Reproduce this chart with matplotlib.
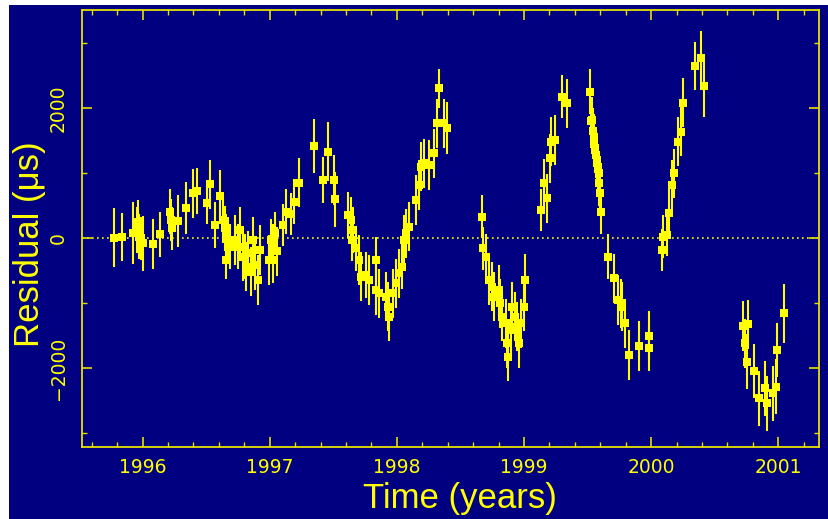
import matplotlib
matplotlib.use("Agg")
import matplotlib.pyplot as plt
from matplotlib.patches import Rectangle
from matplotlib.ticker import MultipleLocator

# --- data ---
time_years = [
    1995.776, 1995.835, 1995.926, 1995.960, 1995.966, 1995.975, 1995.990, 1996.000, 1996.083, 1996.136,
    1996.214, 1996.222, 1996.228, 1996.279, 1996.340, 1996.397, 1996.431, 1996.507, 1996.528, 1996.567,
    1996.606, 1996.632, 1996.645, 1996.653, 1996.659, 1996.672,
    1996.685, 1996.724, 1996.750, 1996.763, 1996.789, 1996.802, 1996.815, 1996.828, 1996.855, 1996.868,
    1996.881, 1996.907, 1996.920, 1996.998, 1997.012, 1997.025, 1997.030, 1997.040, 1997.060, 1997.103,
    1997.130, 1997.169, 1997.195, 1997.234,
    1997.352, 1997.422, 1997.456, 1997.508, 1997.516,
    1997.613, 1997.640, 1997.652, 1997.645, 1997.679, 1997.705, 1997.718, 1997.757, 1997.783, 1997.835,
    1997.840, 1997.862, 1997.914, 1997.927, 1997.940, 1997.966, 1997.992, 1998.018, 1998.044, 1998.057,
    1998.070, 1998.096, 1998.148, 1998.175, 1998.187, 1998.210, 1998.253, 1998.293, 1998.319, 1998.332,
    1998.371, 1998.397,
    1998.672, 1998.675, 1998.698, 1998.724, 1998.750, 1998.763, 1998.802, 1998.815, 1998.828, 1998.855,
    1998.868, 1998.876, 1998.894, 1998.907, 1998.933, 1998.946, 1998.959, 1998.973, 1998.998, 1999.006,
    1999.130, 1999.156, 1999.182, 1999.208, 1999.216, 1999.242, 1999.299, 1999.338,
    1999.522, 1999.527, 1999.534, 1999.540, 1999.547, 1999.553, 1999.561, 1999.567, 1999.573, 1999.580,
    1999.586, 1999.592, 1999.599, 1999.607, 1999.660, 1999.704, 1999.743, 1999.760, 1999.769, 1999.795,
    1999.822, 1999.906, 1999.984, 1999.980,
    2000.083, 2000.096, 2000.122, 2000.140, 2000.161, 2000.182, 2000.209, 2000.232, 2000.253, 2000.345,
    2000.392, 2000.416,
    2000.719, 2000.737, 2000.755, 2000.758, 2000.805, 2000.847, 2000.894, 2000.912, 2000.959, 2000.980,
    2000.991, 2001.043,
]
residual_us = [
    9, 25, 77, 128, 255, 25, 0, -77, -88, 62,
    409, 282, 154, 266, 461, 692, 727, 538, 830, 205,
    651, 282, 154, -333, 25, -26,
    -129, -26, -129, 128, -283, -283, -437, -231, -513, -26,
    -410, -641, -180, -333, -26, -333, -128, 77, -200, 205,
    409, 374, 563, 855,
    1420, 897, 1332, 897, 600,
    358, 282, 128, -26, -154, -333, -590, -564, -641, -333,
    -795, -846, -897, -1051, -1205, -846, -692, -538, -436, -26,
    77, 179, 590, 820, 1101, 1154, 1128, 1307, 1769, 2307,
    1769, 1692,
    333, -154, -283, -641, -744, -897, -795, -1000, -1205, -1307,
    -1615, -1820, -1410, -1051, -1205, -1359, -1615, -1307, -1051, -641,
    435, 846, 615, 1231, 1486, 1512, 2178, 2077,
    2255, 1800, 1820, 1650, 1563, 1450, 1358, 1280, 1204, 1100,
    999, 850, 692, 409, -283, -615, -949, -1000, -1052, -1307,
    -1795, -1657, -1503, -1692,
    -180, 25, 51, 384, 820, 1000, 1486, 1640, 2086, 2655,
    2769, 2347,
    -1349, -1615, -1898, -1323, -2041, -2461, -2307, -2538, -2384, -2283,
    -1718, -1154,
]
error_us = [
    450, 370, 480, 350, 330, 350, 330, 420, 380, 350,
    350, 330, 330, 400, 400, 380, 350, 320, 380, 350,
    400, 350, 350, 300, 350, 350,
    350, 380, 350, 350, 380, 350, 380, 350, 380, 350,
    380, 380, 380, 380, 330, 350, 350, 330, 380, 330,
    350, 330, 350, 380,
    420, 360, 450, 380, 420,
    350, 350, 350, 330, 350, 380, 380, 350, 380, 350,
    380, 380, 380, 380, 380, 380, 380, 380, 350, 380,
    380, 380, 380, 380, 380, 380, 380, 380, 380, 300,
    380, 400,
    330, 330, 350, 380, 380, 380, 380, 380, 380, 380,
    380, 380, 380, 380, 380, 380, 380, 380, 380, 400,
    330, 380, 380, 380, 380, 380, 330, 380,
    350, 350, 350, 350, 350, 350, 350, 350, 350, 350,
    350, 350, 350, 350, 350, 380, 380, 380, 380, 380,
    380, 380, 380, 350,
    330, 330, 330, 380, 380, 380, 380, 380, 380, 370,
    420, 480,
    380, 380, 420, 380, 420, 420, 420, 420, 420, 420,
    420, 450,
]

x_major_ticks = [1996, 1997, 1998, 1999, 2000, 2001]
y_major_ticks = [-2000, 0, 2000]

NAVY = "#000080"
YEL = "#ffff00"
AXC = "#e8e000"

fig = plt.figure(figsize=(8.29, 5.19), dpi=100, facecolor=NAVY)
# white border strips (top and left)
fig.patches.append(Rectangle((0, 0), 9 / 829, 1, transform=fig.transFigure,
                             facecolor="white", edgecolor="none", zorder=-10))
fig.patches.append(Rectangle((0, 1 - 5 / 519), 1, 5 / 519, transform=fig.transFigure,
                             facecolor="white", edgecolor="none", zorder=-10))

ax = fig.add_axes([82 / 829, 1 - 447 / 519, (819 - 82) / 829, (447 - 10) / 519])
ax.set_facecolor(NAVY)
ax.set_xlim(1995.524, 2001.32)
ax.set_ylim(-3211, 3512)

ax.axhline(0, color=YEL, lw=1.2, ls=(0, (1, 2.0)), zorder=1)

ax.errorbar(time_years, residual_us, yerr=error_us, fmt="s", color=YEL,
            ecolor=YEL, elinewidth=1.5, capsize=0, markersize=5.3,
            markeredgewidth=0, zorder=3)

for s in ax.spines.values():
    s.set_color(AXC)
    s.set_linewidth(1.3)

ax.set_xticks(x_major_ticks)
ax.set_xticklabels([str(v) for v in x_major_ticks])
ax.xaxis.set_minor_locator(MultipleLocator(0.2))
ax.set_yticks(y_major_ticks)
ax.set_yticklabels([str(v).replace("-", "\u2212") for v in y_major_ticks],
                   rotation=90, va="center")
ax.yaxis.set_minor_locator(MultipleLocator(1000))

ax.tick_params(which="both", direction="in", top=True, right=True,
               color=AXC, labelcolor=YEL)
ax.tick_params(which="major", length=7.5, width=1.2, labelsize=13.5)
ax.tick_params(which="minor", length=3.8, width=1.0)
ax.tick_params(axis="x", which="major", pad=8)
ax.tick_params(axis="y", which="major", pad=10)

fig.text(460 / 829, 1 - 508 / 519, "Time (years)", color=YEL, fontsize=25,
         family="Liberation Sans", ha="center", va="baseline")
fig.text(30 / 829, 1 - 244 / 519, "Residual (\u03bcs)", color=YEL, fontsize=25,
         family="Liberation Sans", ha="center", va="center", rotation=90)

fig.savefig("out.png", dpi=100, facecolor=NAVY)
